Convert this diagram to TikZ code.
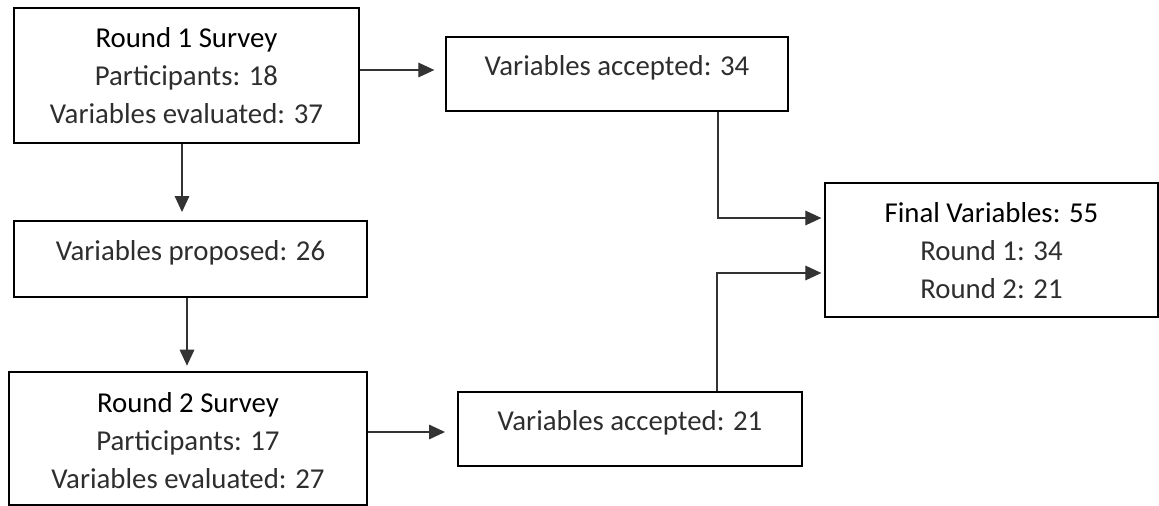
\documentclass[tikz,border=0pt]{standalone}
\usepackage{fontspec}
\setmainfont{Carlito}
\usetikzlibrary{arrows.meta}
\tikzset{
  boxnode/.style={draw=black, line width=1.5pt, rectangle, inner sep=0pt},
  bodytext/.style={font=\fontsize{21.6pt}{28.5pt}\selectfont, text=black!82, align=center, anchor=base, inner sep=0pt},
  conn/.style={draw=black!80, line width=0.8pt, -{Triangle[length=12pt,width=11pt]}},
}
\newcommand{\hdr}[1]{{\color{black}#1}}
\begin{document}
\begin{tikzpicture}[x=0.75pt,y=-0.75pt]
\useasboundingbox (0,0) rectangle (1159,506);
% boxes
\node[boxnode, minimum width=345*0.75pt, minimum height=135*0.75pt] (r1) at (186.5,75.5) {};
\node[boxnode, minimum width=342*0.75pt, minimum height=74*0.75pt] (va34) at (617,74) {};
\node[boxnode, minimum width=353*0.75pt, minimum height=76*0.75pt] (vp26) at (190.5,259) {};
\node[boxnode, minimum width=358*0.75pt, minimum height=133*0.75pt] (r2) at (188,438.5) {};
\node[boxnode, minimum width=344*0.75pt, minimum height=74*0.75pt] (va21) at (630,429) {};
\node[boxnode, minimum width=333*0.75pt, minimum height=134*0.75pt] (fin) at (991.5,250) {};
% texts (base anchor = baseline of last line)
\node[bodytext] (r1t) at (186.5,124) {\hdr{Round 1 Survey}\\Participants: 18\\Variables evaluated: 37};
\node[bodytext] (va34t) at (617,76) {Variables accepted: 34};
\node[bodytext] (vp26t) at (190.5,260) {Variables proposed: 26};
\node[bodytext] (r2t) at (188,488) {\hdr{Round 2 Survey}\\Participants: 17\\Variables evaluated: 27};
\node[bodytext] (va21t) at (630,430) {Variables accepted: 21};
\node[bodytext] (fint) at (991.5,298) {\hdr{Final Variables: 55}\\Round 1: 34\\Round 2: 21};
% helper coordinates
\coordinate (y70) at (0,70);
\coordinate (y432) at (0,432);
\coordinate (y218) at (0,218);
\coordinate (y273) at (0,273);
\coordinate (x182) at (182,0);
\coordinate (x187) at (187,0);
\coordinate (x718) at (718,0);
\coordinate (x717) at (717,0);
% connectors
\draw[conn, shorten >=8pt] (r1.east |- y70) -- (va34.west |- y70);
\draw[conn, shorten >=6pt] (r1.south -| x182) -- (vp26.north -| x182);
\draw[conn, shorten >=4pt] (vp26.south -| x187) -- (r2.north -| x187);
\draw[conn, shorten >=9pt] (r2.east |- y432) -- (va21.west |- y432);
\draw[conn, shorten >=2pt] (va34.south -| x718) |- (fin.west |- y218);
\draw[conn, shorten >=2pt] (va21.north -| x717) |- (fin.west |- y273);
\end{tikzpicture}
\end{document}
